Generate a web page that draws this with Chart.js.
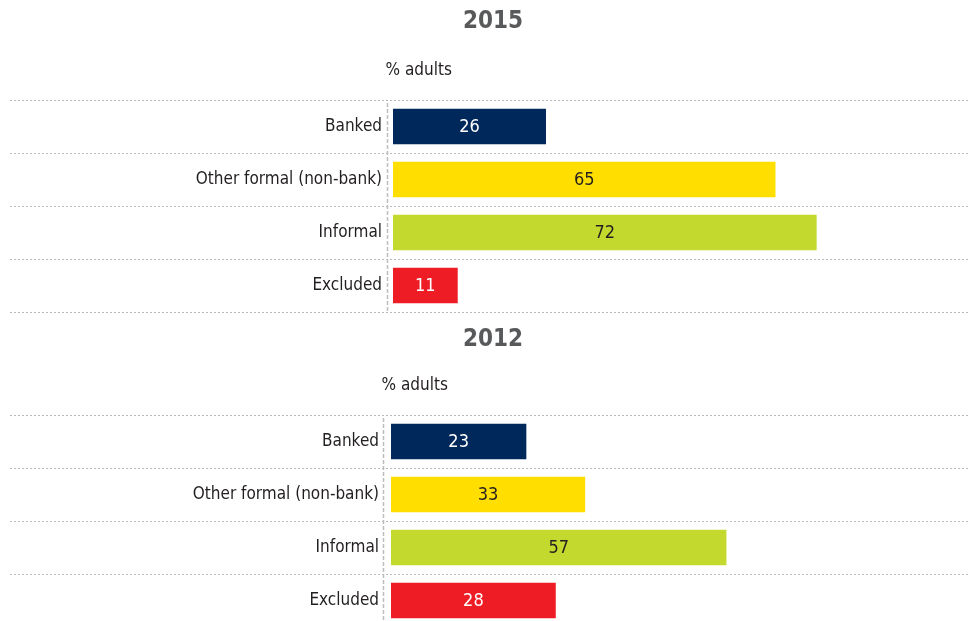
<!DOCTYPE html>
<html>
<head>
<meta charset="utf-8">
<script src="https://cdn.jsdelivr.net/npm/chart.js@4"></script>
<style>
  html, body { margin: 0; padding: 0; background: #fff; overflow: hidden; }
  body { width: 969px; height: 621px; position: relative; }
  .box { position: absolute; left: 0; width: 969px; }
</style>
</head>
<body>
<div class="box" style="top:0;height:315px"><canvas id="c2015"></canvas></div>
<div class="box" style="top:315px;height:315px"><canvas id="c2012"></canvas></div>
<script>
const categories = ['Banked', 'Other formal (non-bank)', 'Informal', 'Excluded'];
const values2015 = [26, 65, 72, 11];
const values2012 = [23, 33, 57, 28];
const barColors = ['#00285a', '#ffde00', '#c3d92e', '#ee1c25'];
const valueColors = ['#ffffff', '#231f20', '#231f20', '#ffffff'];
const unitLabel = '% adults';

const FONT = "'Liberation Sans Narrow', 'DejaVu Sans Condensed', 'Roboto', sans-serif";

// dotted row separators across the whole width + dashed zero line + unit label
const framePlugin = {
  id: 'frame',
  beforeDatasetsDraw(chart, args, opts) {
    const ctx = chart.ctx;
    const y = chart.scales.y;
    const area = chart.chartArea;
    const step = y.getPixelForValue(1) - y.getPixelForValue(0);
    ctx.save();
    ctx.strokeStyle = '#b9b9b9';
    ctx.lineWidth = 1;
    ctx.setLineDash([2, 2]);
    for (let i = 0; i <= categories.length; i++) {
      const py = Math.round(y.getPixelForValue(0) - step / 2 + i * step) + 0.5;
      ctx.beginPath();
      ctx.moveTo(10, py);
      ctx.lineTo(chart.width, py);
      ctx.stroke();
    }
    const zx = area.left - opts.zeroGap + 0.5;
    ctx.strokeStyle = '#bdbdbd';
    ctx.lineWidth = 1.5;
    ctx.setLineDash([4, 2]);
    ctx.beginPath();
    ctx.moveTo(zx, area.top + 3);
    ctx.lineTo(zx, area.bottom);
    ctx.stroke();
    ctx.setLineDash([]);
    ctx.fillStyle = '#231f20';
    ctx.font = '17px ' + FONT;
    ctx.textAlign = 'left';
    ctx.textBaseline = 'middle';
    ctx.fillText(unitLabel, zx - 2, area.top - 29);
    ctx.restore();
  },
  afterDatasetsDraw(chart) {
    const ctx = chart.ctx;
    const meta = chart.getDatasetMeta(0);
    const data = chart.data.datasets[0].data;
    ctx.save();
    ctx.font = '18px ' + FONT;
    ctx.textAlign = 'center';
    ctx.textBaseline = 'middle';
    meta.data.forEach((bar, i) => {
      ctx.fillStyle = valueColors[i];
      ctx.fillText(String(data[i]), (bar.x + bar.base) / 2, bar.y + 1);
    });
    ctx.restore();
  }
};

function makeChart(id, year, values, lay) {
  return new Chart(document.getElementById(id), {
    type: 'bar',
    data: {
      labels: categories,
      datasets: [{
        data: values,
        backgroundColor: barColors,
        borderWidth: 0,
        categoryPercentage: 1,
        barPercentage: 0.67
      }]
    },
    options: {
      indexAxis: 'y',
      responsive: true,
      maintainAspectRatio: false,
      animation: false,
      layout: { padding: { left: lay.padLeft, right: lay.padRight, top: 0, bottom: 3 } },
      scales: {
        x: { display: false, min: 0, max: 95 },
        y: {
          grid: { display: false, drawTicks: false },
          border: { display: false },
          ticks: { color: '#231f20', padding: lay.tickPad, font: { family: FONT, size: 17 } },
          afterFit(scale) {
            scale.width = lay.chartLeft - lay.padLeft;
            scale.paddingTop = 0;
            scale.paddingBottom = 0;
          }
        }
      },
      plugins: {
        legend: { display: false },
        tooltip: { enabled: false },
        title: {
          display: true,
          text: year,
          color: '#58595b',
          font: { family: FONT, size: 24, weight: 'bold' },
          padding: { top: lay.titleTop, bottom: lay.titleBottom }
        },
        frame: { zeroGap: lay.zeroGap }
      }
    },
    plugins: [framePlugin]
  });
}

makeChart('c2015', '2015', values2015,
  { padLeft: 34, padRight: 17, chartLeft: 393, tickPad: 11, zeroGap: 6, titleTop: 7.6, titleBottom: 63.6 });
makeChart('c2012', '2012', values2012,
  { padLeft: 36, padRight: 19, chartLeft: 391, tickPad: 12, zeroGap: 8, titleTop: 10.6, titleBottom: 60.6 });
</script>
</body>
</html>
